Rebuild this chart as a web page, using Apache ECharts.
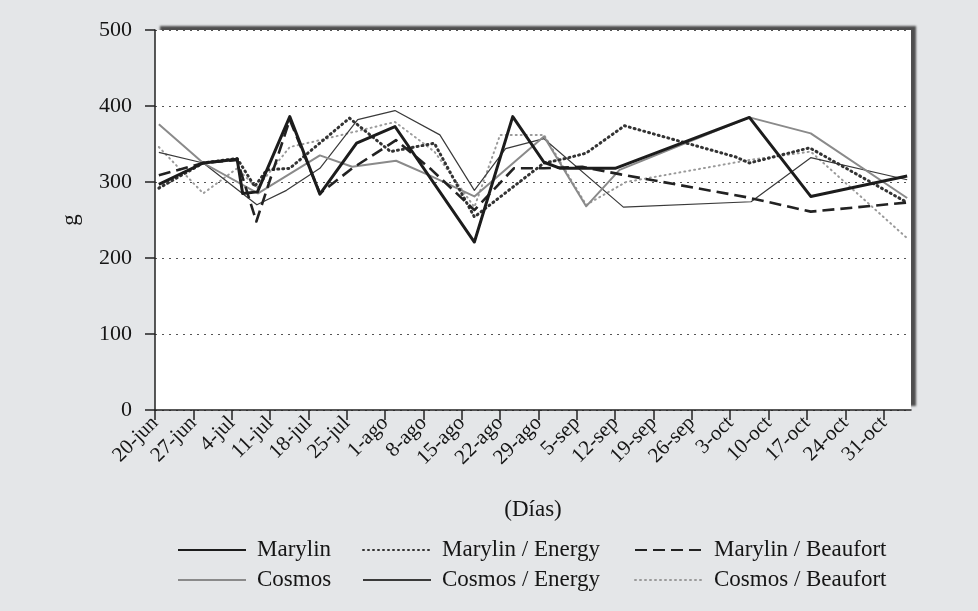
<!DOCTYPE html>
<html>
<head>
<meta charset="utf-8">
<script src="https://cdn.jsdelivr.net/npm/echarts@6/dist/echarts.min.js"></script>
<style>
  html, body { margin: 0; padding: 0; background: #e4e6e8; }
  #chart { width: 978px; height: 611px; }
</style>
</head>
<body>
<div id="chart"></div>
<script>
// Etiquetas semanales del eje X (una cada 7 días desde el 20-jun)
const xLabels = ['20-jun', '27-jun', '4-jul', '11-jul', '18-jul', '25-jul', '1-ago', '8-ago',
  '15-ago', '22-ago', '29-ago', '5-sep', '12-sep', '19-sep', '26-sep', '3-oct', '10-oct',
  '17-oct', '24-oct', '31-oct'];

// Datos: [día desde el 20-jun, g]
const marylin = [[0.7, 297], [8.8, 325], [15, 330], [16, 285], [18.7, 287], [24.6, 386], [30.1, 284],
  [36.8, 351], [43.8, 373], [58.3, 221], [65.3, 386], [71, 326], [74, 318], [84, 318],
  [108.5, 385], [119.7, 281], [137.3, 308]];
const cosmos = [[0.7, 376], [8.8, 325], [18.8, 285], [30.1, 335], [36, 320], [44, 328], [50.6, 307],
  [58.3, 281], [71, 360], [78.7, 268], [84.8, 316], [108.5, 385], [119.7, 364], [137.3, 279]];
const marylinEnergy = [[0.7, 292], [8.8, 325], [15, 331], [18.2, 294], [20.4, 316], [24.6, 318],
  [35.5, 384], [43, 340], [51, 351], [58.3, 254], [71, 325], [75, 331], [78.7, 338], [85.7, 374],
  [106, 333], [108.5, 325], [119.5, 345], [137.3, 273]];
const cosmosEnergy = [[0.7, 339], [8.8, 325], [18.6, 270], [24, 289], [30.1, 318], [37, 382],
  [43.8, 394], [52, 362], [58.3, 289], [64, 344], [71, 357], [85.5, 267], [108.8, 274],
  [119.7, 332], [137.3, 303]];
const marylinBeaufort = [[0.7, 309], [8.8, 325], [15, 329], [18.5, 248], [24.6, 382], [30.1, 285],
  [36, 318], [44, 355], [50.5, 316], [58.3, 263], [65.5, 318], [71, 318], [78, 320], [85, 310],
  [108, 280], [119.7, 261], [137.3, 273]];
const cosmosBeaufort = [[0.7, 346], [8.8, 285], [15, 318], [18.6, 292], [24.6, 346], [30.1, 355],
  [43.8, 379], [51, 340], [58.3, 267], [63, 362], [71, 362], [78.7, 270], [86, 300], [108.5, 329],
  [119.7, 340], [137.3, 226]];

const serif = "'Liberation Serif', 'DejaVu Serif', serif";
const tickValues = xLabels.map((_, i) => i * 7);

const chart = echarts.init(document.getElementById('chart'));

// Una columna de leyenda (dos filas)
function legendCol(left, names) {
  return {
    left: left,
    top: 538,
    padding: 0,
    orient: 'vertical',
    itemWidth: 68,
    itemHeight: 12,
    itemGap: 6,
    itemStyle: { opacity: 0 },
    textStyle: { fontFamily: serif, fontSize: 23, color: '#151515', lineHeight: 24, padding: [0, 0, 0, 6] },
    data: names
  };
}

function lineSeries(name, data, lineStyle, z) {
  return {
    name: name,
    type: 'line',
    data: data,
    symbol: 'none',
    z: z,
    lineStyle: Object.assign({ join: 'round' }, lineStyle),
    itemStyle: { color: lineStyle.color },
    emphasis: { disabled: true }
  };
}

const option = {
  backgroundColor: '#e4e6e8',
  animation: false,
  textStyle: { fontFamily: serif },
  grid: {
    left: 155, right: 67, top: 30, bottom: 201,
    show: true,
    backgroundColor: '#ffffff',
    borderWidth: 0,
    shadowColor: 'rgba(70,70,70,0.95)',
    shadowOffsetX: 5,
    shadowOffsetY: -4,
    shadowBlur: 2
  },
  legend: [
    legendCol(177, ['Marylin', 'Cosmos']),
    legendCol(362, ['Marylin / Energy', 'Cosmos / Energy']),
    legendCol(634, ['Marylin / Beaufort', 'Cosmos / Beaufort'])
  ],
  xAxis: {
    type: 'value',
    min: 0,
    max: 138,
    interval: 7,
    name: '(Días)',
    nameLocation: 'middle',
    nameGap: 88,
    nameTextStyle: { fontFamily: serif, fontSize: 23, color: '#151515' },
    axisLine: { show: true, lineStyle: { color: '#222', width: 1.5 } },
    axisTick: { show: true, length: 10, customValues: tickValues, lineStyle: { color: '#222', width: 1.5 } },
    axisLabel: {
      customValues: tickValues,
      rotate: 45,
      margin: 10,
      fontFamily: serif,
      fontSize: 21,
      color: '#151515',
      formatter: v => xLabels[Math.round(v / 7)] || ''
    },
    splitLine: { show: false }
  },
  yAxis: {
    type: 'value',
    min: 0,
    max: 500,
    interval: 100,
    name: 'g',
    nameLocation: 'middle',
    nameGap: 73,
    nameTextStyle: { fontFamily: serif, fontSize: 23, color: '#151515' },
    axisLine: { show: true, lineStyle: { color: '#222', width: 1.5 } },
    axisTick: { show: true, length: 10, lineStyle: { color: '#222', width: 1.5 } },
    axisLabel: { margin: 23, fontFamily: serif, fontSize: 22, color: '#151515' },
    splitLine: { show: true, lineStyle: { color: '#555', width: 1, type: [2, 5] } }
  },
  series: [
    lineSeries('Cosmos / Beaufort', cosmosBeaufort, { color: '#9a9a9a', width: 2, type: [1, 4], cap: 'round' }, 2),
    lineSeries('Cosmos / Energy', cosmosEnergy, { color: '#3a3a3a', width: 1.2 }, 3),
    lineSeries('Cosmos', cosmos, { color: '#8a8a8a', width: 2 }, 4),
    lineSeries('Marylin / Energy', marylinEnergy, { color: '#333', width: 3, type: [1, 4], cap: 'round' }, 5),
    lineSeries('Marylin / Beaufort', marylinBeaufort, { color: '#222', width: 2.6, type: [12, 6] }, 6),
    lineSeries('Marylin', marylin, { color: '#1c1c1c', width: 3 }, 7)
  ]
};

chart.setOption(option);
</script>
</body>
</html>
